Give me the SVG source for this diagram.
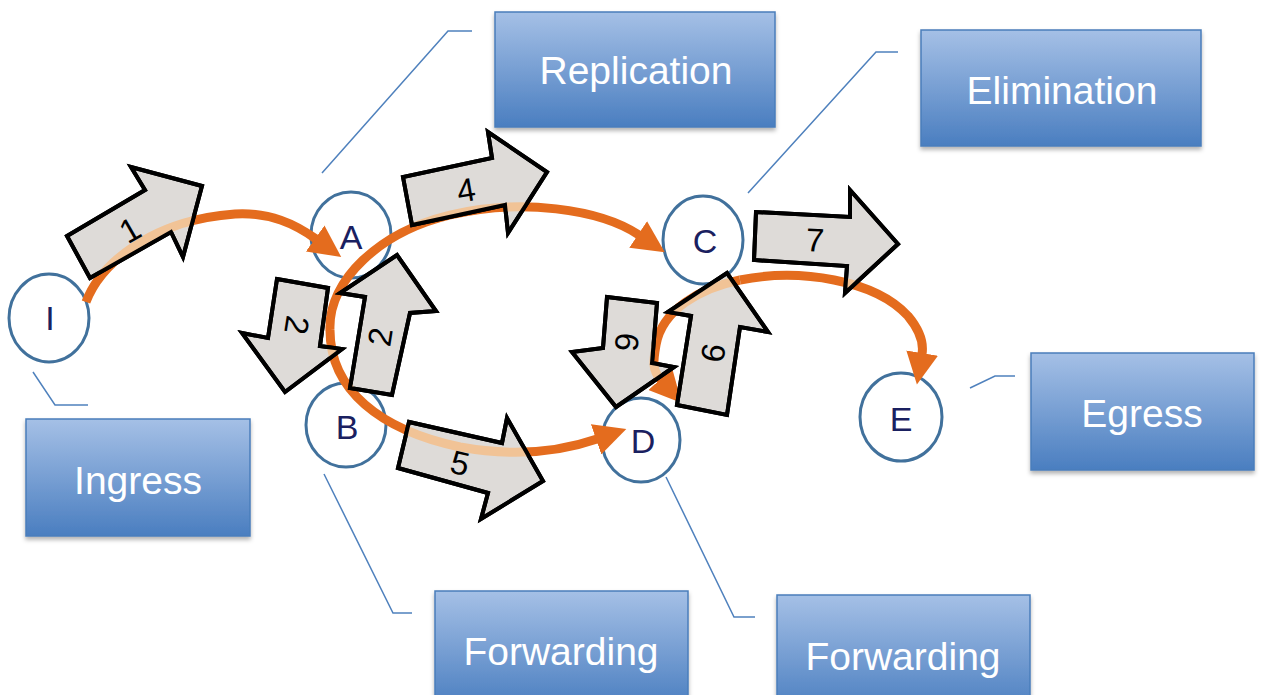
<svg xmlns="http://www.w3.org/2000/svg" width="1262" height="695" viewBox="0 0 1262 695">
  <defs>
    <linearGradient id="boxGrad" x1="0" y1="0" x2="0" y2="1">
      <stop offset="0" stop-color="#a5c0e6"/>
      <stop offset="1" stop-color="#4a7ec0"/>
    </linearGradient>
    <filter id="shadow" x="-10%" y="-10%" width="120%" height="130%">
      <feDropShadow dx="0" dy="3" stdDeviation="2" flood-color="#000" flood-opacity="0.3"/>
    </filter>
    <marker id="ah" markerUnits="userSpaceOnUse" viewBox="0 0 32 32" markerWidth="32" markerHeight="32" refX="1" refY="16" orient="auto">
      <path d="M0,0 L32,16 L0,32 z" fill="#e46c1e"/>
    </marker>
    <clipPath id="pktClip">
      <polygon points="90,278 67,236 145,190 131,167 202,186 183,257 171,232"/>
      <polygon points="403,177 412,225 505,205 508,233 547,172 488,132 492,158"/>
      <polygon points="409,422 398,468 488,493 481,519 543,481 507,418 502,443"/>
      <polygon points="756,212 754,260 847,266 845,293 898,244 850,190 850,217"/>
      <polygon points="277,279 328,288 320,346 342,349 285,392 242,333 268,338"/>
      <polygon points="350,388 392,395 410,313 436,311 397,255 340,293 365,297"/>
      <polygon points="607,297 657,303 652,363 674,367 616,407 572,352 603,348"/>
      <polygon points="677,405 727,415 740,327 768,332 727,273 668,312 691,316"/>
    </clipPath>
  </defs>
  <style>
    .box { fill: url(#boxGrad); stroke: #4a7ebb; stroke-width: 1.5; filter: url(#shadow); }
    .boxtxt { font-family: "Liberation Sans", Arial, sans-serif; font-size: 39px; fill: #ffffff; text-anchor: middle; }
    .callout { fill: none; stroke: #4f81bd; stroke-width: 1.5; }
    .node { fill: #ffffff; stroke: #41719c; stroke-width: 3; }
    .nodetxt { font-family: "Liberation Sans", Arial, sans-serif; font-size: 34px; fill: #1a2060; text-anchor: middle; }
    .flow { fill: none; stroke: #e46c1e; stroke-width: 9; marker-end: url(#ah); }
    .peach { fill: none; stroke: #f1c396; stroke-width: 9; }
    .pkt { fill: #dedbd8; stroke: #000000; stroke-width: 4; stroke-linejoin: miter; }
    .pkttxt { font-family: "Liberation Sans", Arial, sans-serif; font-size: 33px; fill: #000000; text-anchor: middle; dominant-baseline: central; }
  </style>

  <g id="callouts">
    <polyline class="callout" points="322,173 448,31 472,31"/>
    <polyline class="callout" points="748,193 876,52 898,52"/>
    <polyline class="callout" points="33,372 55,405 88,405"/>
    <polyline class="callout" points="970,388 995,376 1015,376"/>
    <polyline class="callout" points="324,474 393,613 412,613"/>
    <polyline class="callout" points="666,477 734,617 755,617"/>
  </g>

  <g id="box-replication">
    <rect class="box" x="495" y="12" width="280" height="115"/>
    <text class="boxtxt" x="636" y="84">Replication</text>
  </g>
  <g id="box-elimination">
    <rect class="box" x="921" y="30" width="280" height="116"/>
    <text class="boxtxt" x="1062" y="104">Elimination</text>
  </g>
  <g id="box-ingress">
    <rect class="box" x="26" y="419" width="224" height="117"/>
    <text class="boxtxt" x="138" y="494">Ingress</text>
  </g>
  <g id="box-egress">
    <rect class="box" x="1031" y="353" width="223" height="117"/>
    <text class="boxtxt" x="1142" y="427">Egress</text>
  </g>
  <g id="box-forwarding-b">
    <rect class="box" x="435" y="591" width="253" height="117"/>
    <text class="boxtxt" x="561" y="665">Forwarding</text>
  </g>
  <g id="box-forwarding-d">
    <rect class="box" x="777" y="595" width="253" height="117"/>
    <text class="boxtxt" x="903" y="670">Forwarding</text>
  </g>

  <g id="node-I">
    <ellipse class="node" cx="49" cy="318" rx="40" ry="44"/>
    <text class="nodetxt" x="50" y="330">I</text>
  </g>
  <g id="node-A">
    <ellipse class="node" cx="351" cy="235" rx="40" ry="43"/>
    <text class="nodetxt" x="351" y="249">A</text>
  </g>
  <g id="node-B">
    <ellipse class="node" cx="346" cy="425" rx="40" ry="42"/>
    <text class="nodetxt" x="347" y="439">B</text>
  </g>
  <g id="node-C">
    <ellipse class="node" cx="703" cy="240" rx="40" ry="44"/>
    <text class="nodetxt" x="705" y="253">C</text>
  </g>
  <g id="node-D">
    <ellipse class="node" cx="641" cy="440" rx="39" ry="42"/>
    <text class="nodetxt" x="643" y="453">D</text>
  </g>
  <g id="node-E">
    <ellipse class="node" cx="901" cy="417" rx="41" ry="44"/>
    <text class="nodetxt" x="901" y="431">E</text>
  </g>

  <g id="connectors">
    <path id="c-IA" class="flow" d="M86,302 C100,265 150,220 235,214 C270,212 295,224 316,239"/>
    <path id="c-AC" class="flow" d="M330,330 C328,280 380,232 450,215 C520,198 600,209 639,235"/>
    <path id="c-BD" class="flow" d="M330,330 C330,390 380,430 460,447 C520,458 565,450 597,439"/>
    <path id="c-CD" class="flow" d="M740,280 C700,288 662,310 656,345 C653,362 652,370 661,380"/>
    <path id="c-CE" class="flow" d="M740,280 C800,268 875,280 908,316 C918,328 924,342 922,354"/>
  </g>

  <g id="packets">
    <g id="pkt-1">
      <polygon class="pkt" points="90,278 67,236 145,190 131,167 202,186 183,257 171,232"/>
    </g>
    <g id="pkt-4">
      <polygon class="pkt" points="403,177 412,225 505,205 508,233 547,172 488,132 492,158"/>
    </g>
    <g id="pkt-5">
      <polygon class="pkt" points="409,422 398,468 488,493 481,519 543,481 507,418 502,443"/>
    </g>
    <g id="pkt-7">
      <polygon class="pkt" points="756,212 754,260 847,266 845,293 898,244 850,190 850,217"/>
    </g>
    <g id="pkt-2-down">
      <polygon class="pkt" points="277,279 328,288 320,346 342,349 285,392 242,333 268,338"/>
    </g>
    <g id="pkt-2-up">
      <polygon class="pkt" points="350,388 392,395 410,313 436,311 397,255 340,293 365,297"/>
    </g>
    <g id="pkt-6-down">
      <polygon class="pkt" points="607,297 657,303 652,363 674,367 616,407 572,352 603,348"/>
    </g>
    <g id="pkt-6-up">
      <polygon class="pkt" points="677,405 727,415 740,327 768,332 727,273 668,312 691,316"/>
    </g>
  </g>

  <g id="flow-through" clip-path="url(#pktClip)">
    <path class="peach" d="M86,302 C100,265 150,220 235,214 C270,212 295,224 316,239"/>
    <path class="peach" d="M330,330 C328,280 380,232 450,215 C520,198 600,209 639,235"/>
    <path class="peach" d="M330,330 C330,390 380,430 460,447 C520,458 565,450 597,439"/>
    <path class="peach" d="M740,280 C700,288 662,310 656,345 C653,362 652,370 661,380"/>
    <path class="peach" d="M740,280 C800,268 875,280 908,316 C918,328 924,342 922,354"/>
  </g>
  <g id="packet-outlines" fill="none" stroke="#000" stroke-width="4">
    <polygon points="90,278 67,236 145,190 131,167 202,186 183,257 171,232"/>
    <polygon points="403,177 412,225 505,205 508,233 547,172 488,132 492,158"/>
    <polygon points="409,422 398,468 488,493 481,519 543,481 507,418 502,443"/>
    <polygon points="756,212 754,260 847,266 845,293 898,244 850,190 850,217"/>
    <polygon points="277,279 328,288 320,346 342,349 285,392 242,333 268,338"/>
    <polygon points="350,388 392,395 410,313 436,311 397,255 340,293 365,297"/>
    <polygon points="607,297 657,303 652,363 674,367 616,407 572,352 603,348"/>
    <polygon points="677,405 727,415 740,327 768,332 727,273 668,312 691,316"/>
  </g>
  <g id="packet-labels">
    <text class="pkttxt" transform="translate(130,230) rotate(-30)">1</text>
    <text class="pkttxt" transform="translate(466,190) rotate(-10)">4</text>
    <text class="pkttxt" transform="translate(460,463) rotate(13)">5</text>
    <text class="pkttxt" transform="translate(815,240) rotate(3)">7</text>
    <text class="pkttxt" transform="translate(297,325) rotate(99)">2</text>
    <text class="pkttxt" transform="translate(380,337) rotate(-81)">2</text>
    <text class="pkttxt" transform="translate(627,342) rotate(96)">6</text>
    <text class="pkttxt" transform="translate(713,353) rotate(-81)">6</text>
  </g>
</svg>
